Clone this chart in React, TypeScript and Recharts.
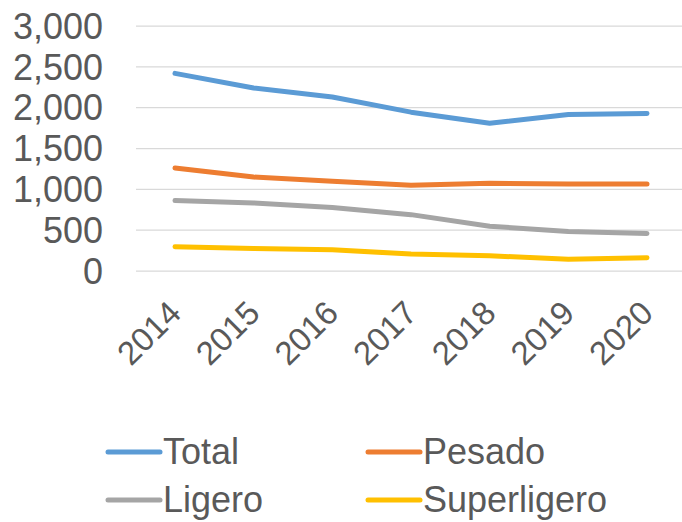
import { LineChart, Line, XAxis, YAxis, CartesianGrid, Legend } from "recharts";

const years = ["2014", "2015", "2016", "2017", "2018", "2019", "2020"];
const total = [2420, 2240, 2130, 1945, 1810, 1915, 1930];
const pesado = [1260, 1150, 1098, 1050, 1073, 1065, 1065];
const ligero = [862, 833, 777, 690, 549, 484, 460];
const superligero = [297, 276, 260, 207, 187, 143, 162];
const yTicks = [0, 500, 1000, 1500, 2000, 2500, 3000];

const series = [
  { key: "Total", values: total, color: "#5B9BD5" },
  { key: "Pesado", values: pesado, color: "#ED7D31" },
  { key: "Ligero", values: ligero, color: "#A5A5A5" },
  { key: "Superligero", values: superligero, color: "#FFC000" },
];

const data = years.map((year, i) => {
  const row: Record<string, string | number> = { year };
  series.forEach((s) => {
    row[s.key] = s.values[i];
  });
  return row;
});

const FONT = "'Liberation Sans', Arial, sans-serif";
const TEXT = "#595959";

function YearTick({ x, y, payload }: any) {
  return (
    <text
      x={x + 8}
      y={y + 36}
      transform={`rotate(-45, ${x + 8}, ${y + 36})`}
      textAnchor="end"
      fill={TEXT}
      fontSize={33}
      fontFamily={FONT}
    >
      {payload.value}
    </text>
  );
}

function LegendBox() {
  return (
    <div style={{ position: "relative", height: 121, fontFamily: FONT, fontSize: 36, color: TEXT }}>
      {series.map((s, i) => (
        <div
          key={s.key}
          style={{
            position: "absolute",
            left: i % 2 === 0 ? 105 : 365,
            top: i < 2 ? 27 : 75,
            height: 48,
            display: "flex",
            alignItems: "center",
            whiteSpace: "nowrap",
          }}
        >
          <svg width={58} height={10}>
            <line x1={3} y1={5} x2={55} y2={5} stroke={s.color} strokeWidth={5} strokeLinecap="round" />
          </svg>
          <span>{s.key}</span>
        </div>
      ))}
    </div>
  );
}

export default function App() {
  return (
    <div style={{ position: "absolute", left: 0, top: 0, width: 682, height: 522, overflow: "hidden", background: "#fff" }}>
      <LineChart width={690} height={522} data={data} margin={{ top: 26, right: 4, bottom: 0, left: 0 }}>
        <CartesianGrid horizontal vertical={false} stroke="#D9D9D9" strokeWidth={1.25} />
        <XAxis
          dataKey="year"
          axisLine={false}
          tickLine={false}
          height={130}
          interval={0}
          padding={{ left: 39, right: 39 }}
          tick={<YearTick />}
        />
        <YAxis
          domain={[0, 3000]}
          ticks={yTicks}
          interval={0}
          width={136}
          axisLine={false}
          tickLine={false}
          tickMargin={27}
          tickFormatter={(v: number) => v.toLocaleString("en-US")}
          tick={{ fill: TEXT, fontSize: 36, fontFamily: FONT }}
        />
        <Legend verticalAlign="bottom" content={() => <LegendBox />} />
        {series.map((s) => (
          <Line
            key={s.key}
            type="linear"
            dataKey={s.key}
            stroke={s.color}
            strokeWidth={5}
            strokeLinecap="round"
            strokeLinejoin="round"
            dot={false}
            isAnimationActive={false}
          />
        ))}
      </LineChart>
    </div>
  );
}
